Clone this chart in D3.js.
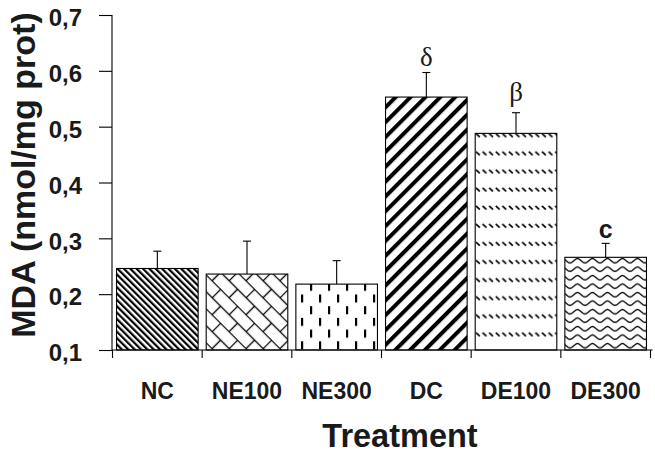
<!DOCTYPE html>
<html>
<head>
<meta charset="utf-8">
<script src="https://cdn.jsdelivr.net/npm/d3@7"></script>
<style>
  html, body { margin: 0; padding: 0; background: #fff; }
  svg { display: block; }
  text { fill: #1a1a1a; }
</style>
</head>
<body>
<svg id="chart" width="655" height="459"></svg>
<script>
// ---- data ----
const categories = ["NC", "NE100", "NE300", "DC", "DE100", "DE300"];
const means      = [0.246, 0.236, 0.218, 0.553, 0.488, 0.266];
const errors     = [0.031, 0.059, 0.042, 0.044, 0.037, 0.025];
const marks      = ["", "", "", "δ", "β", "c"];
const yTicks     = [0.1, 0.2, 0.3, 0.4, 0.5, 0.6, 0.7];
const yTickLabels = ["0,1", "0,2", "0,3", "0,4", "0,5", "0,6", "0,7"];
const xTitle = "Treatment";
const yTitle = "MDA (nmol/mg prot)";

// ---- layout ----
const svg = d3.select("#chart");
const x = d3.scaleBand().domain(categories).range([112.5, 650.5])
  .paddingInner(0.09).paddingOuter(0.045);
const y = d3.scaleLinear().domain([0.1, 0.7]).range([350, 15]);

// ---- patterns ----
const defs = svg.append("defs");
function pat(id, w, h, transform) {
  const p = defs.append("pattern").attr("id", id)
    .attr("patternUnits", "userSpaceOnUse").attr("width", w).attr("height", h);
  if (transform) p.attr("patternTransform", transform);
  p.append("rect").attr("width", w).attr("height", h).attr("fill", "#fff");
  return p;
}
// NC: dense "\" stripes
pat("p0", 4.5, 10, "rotate(-45)")
  .append("rect").attr("width", 2.2).attr("height", 10).attr("fill", "#000");
// NE100: diagonal brick
{
  const p = pat("p1", 24, 24, "rotate(45)");
  const g = p.append("g").attr("stroke", "#000").attr("stroke-width", 1.4).attr("fill", "none");
  g.append("line").attr("x1", 0).attr("y1", 0.5).attr("x2", 24).attr("y2", 0.5);
  g.append("line").attr("x1", 0).attr("y1", 12.5).attr("x2", 24).attr("y2", 12.5);
  g.append("line").attr("x1", 0.5).attr("y1", 0).attr("x2", 0.5).attr("y2", 12.5);
  g.append("line").attr("x1", 12.5).attr("y1", 12.5).attr("x2", 12.5).attr("y2", 24);
}
// NE300: staggered vertical dashes
{
  const p = pat("p2", 18, 23.4);
  p.append("rect").attr("x", 4).attr("y", 2).attr("width", 2.2).attr("height", 8).attr("fill", "#000");
  p.append("rect").attr("x", 13).attr("y", 13.7).attr("width", 2.2).attr("height", 8).attr("fill", "#000");
}
// DC: thick "/" stripes
pat("p3", 10.5, 10, "rotate(45)")
  .append("rect").attr("width", 4).attr("height", 10).attr("fill", "#000");
// DE100: rows of small "\" dashes
{
  const p = pat("p4", 6.6, 18.1, "translate(0,6)");
  p.append("line").attr("x1", 0.8).attr("y1", 0.8).attr("x2", 4.6).attr("y2", 4.4)
    .attr("stroke", "#000").attr("stroke-width", 1.7);
}
// DE300: waves
{
  const p = pat("p5", 15, 8.5, "translate(0,2)");
  p.append("path").attr("d", "M0,6 C2.5,6 5,1.5 7.5,1.5 C10,1.5 12.5,6 15,6")
    .attr("fill", "none").attr("stroke", "#000").attr("stroke-width", 1.4);
}

// ---- bars ----
const data = categories.map((c, i) => ({ c, i, m: means[i], e: errors[i], mark: marks[i] }));
svg.append("g").selectAll("rect").data(data).join("rect")
  .attr("x", d => x(d.c))
  .attr("y", d => y(d.m))
  .attr("width", x.bandwidth())
  .attr("height", d => y(0.1) - y(d.m))
  .attr("fill", d => `url(#p${d.i})`)
  .attr("stroke", "#000").attr("stroke-width", 1.1);

// ---- error bars ----
const eg = svg.append("g").attr("stroke", "#000").attr("stroke-width", 1.1);
data.forEach(d => {
  const cx = x(d.c) + x.bandwidth() / 2;
  eg.append("line").attr("x1", cx).attr("x2", cx).attr("y1", y(d.m)).attr("y2", y(d.m + d.e));
  eg.append("line").attr("x1", cx - 4).attr("x2", cx + 4).attr("y1", y(d.m + d.e)).attr("y2", y(d.m + d.e));
});

// ---- annotations ----
svg.append("g").selectAll("text").data(data.filter(d => d.mark)).join("text")
  .attr("x", d => x(d.c) + x.bandwidth() / 2)
  .attr("y", d => y(d.m + d.e) - (d.mark === "c" ? 5 : d.mark === "β" ? 12 : 7))
  .attr("text-anchor", "middle")
  .attr("font-family", d => d.mark === "c" ? "Liberation Sans, Arial, sans-serif" : "Liberation Serif, Times New Roman, serif")
  .attr("font-weight", d => d.mark === "c" ? "bold" : "normal")
  .attr("font-size", d => d.mark === "c" ? 25 : 27)
  .text(d => d.mark);

// ---- y axis ----
const yAxis = svg.append("g").attr("transform", "translate(112,0)")
  .call(d3.axisLeft(y).tickValues(yTicks).tickSize(13).tickFormat((d, i) => yTickLabels[i]));
yAxis.select(".domain").attr("d", `M0,${y(0.7)}V${y(0.1)}`).attr("stroke", "#000").attr("stroke-width", 1.1);
yAxis.selectAll(".tick line").attr("stroke", "#000").attr("stroke-width", 1.1);
yAxis.selectAll(".tick text")
  .attr("x", -30).attr("dy", "0.45em")
  .attr("font-family", "Liberation Sans, Arial, sans-serif")
  .attr("font-weight", "bold").attr("font-size", 24).attr("fill", "#1a1a1a");

// ---- x axis ----
const step = x.step();
const x0 = x(categories[0]) - step * x.paddingOuter();
const xg = svg.append("g").attr("stroke", "#000").attr("stroke-width", 1.1);
xg.append("line").attr("x1", 112).attr("x2", x0 + step * categories.length + 2).attr("y1", y(0.1)).attr("y2", y(0.1));
d3.range(categories.length + 1).forEach(i => {
  xg.append("line").attr("x1", x0 + i * step).attr("x2", x0 + i * step)
    .attr("y1", y(0.1)).attr("y2", y(0.1) + 8);
});
svg.append("g").selectAll("text").data(categories).join("text")
  .attr("x", d => x(d) + x.bandwidth() / 2)
  .attr("y", 399)
  .attr("text-anchor", "middle")
  .attr("font-family", "Liberation Sans, Arial, sans-serif")
  .attr("font-weight", "bold").attr("font-size", 23)
  .text(d => d);

// ---- titles ----
svg.append("text").attr("x", 400).attr("y", 446.5).attr("text-anchor", "middle")
  .attr("font-family", "Liberation Sans, Arial, sans-serif")
  .attr("font-weight", "bold").attr("font-size", 32.5).text(xTitle);
svg.append("text").attr("transform", "translate(35,175) rotate(-90)").attr("text-anchor", "middle")
  .attr("font-family", "Liberation Sans, Arial, sans-serif")
  .attr("font-weight", "bold").attr("font-size", 34).text(yTitle);
</script>
</body>
</html>
